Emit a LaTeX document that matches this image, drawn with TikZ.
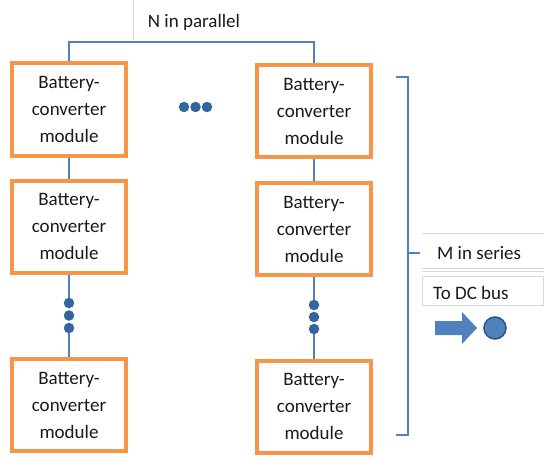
\documentclass[tikz,border=0pt]{standalone}
\usepackage{fontspec}
\setmainfont{Carlito}
\definecolor{modorange}{HTML}{F79646}
\definecolor{busblue}{HTML}{4F81BD}
\definecolor{dotblue}{HTML}{35659F}
\definecolor{dkblue}{HTML}{2C5383}
\definecolor{txt}{HTML}{1A1A1A}
\definecolor{faint}{HTML}{D9D9D9}
\tikzset{
  module/.style={draw=modorange, line width=4pt, fill=white, rectangle,
    minimum width=114pt, minimum height=92pt, inner sep=0pt, align=center,
    text=txt, font=\fontsize{19}{27}\selectfont},
  bus/.style={draw=busblue, line width=2pt},
  dotc/.style={circle, fill=dotblue, minimum size=10.5pt, inner sep=0pt},
  label/.style={text=txt, font=\fontsize{19}{22}\selectfont, inner sep=0pt},
  faintline/.style={draw=faint, line width=0.8pt}
}
\begin{document}
\begin{tikzpicture}[x=1pt, y=-1pt]
\useasboundingbox[fill=white] (0,0) rectangle (544,460);
% faint text box edges
\draw[faintline] (133,0) -- (133,40);
\draw[faintline] (422,233) -- (544,233);
\draw[faintline] (422,268) -- (544,268);
\draw[faintline] (422,271) -- (544,271);
\draw[faintline] (422,276) rectangle (543,305);
% modules
\node[module] (L1) at (69,109.5) {Battery-\\converter\\module};
\node[module] (L2) at (69,226.5) {Battery-\\converter\\module};
\node[module] (L3) at (69,405) {Battery-\\converter\\module};
\node[module] (R1) at (314,111) {Battery-\\converter\\module};
\node[module] (R2) at (314,229) {Battery-\\converter\\module};
\node[module] (R3) at (314,406.5) {Battery-\\converter\\module};
% bus
\coordinate (bus) at (192,42);
\draw[bus] (L1.north) |- (bus) -| (R1.north);
\draw[bus] (L1.south) -- (L2.north);
\draw[bus] (R1.south) -- (R2.north);
% vertical dots
\node[dotc] (ld1) at (69,303) {};
\node[dotc] (ld2) at (69,315.5) {};
\node[dotc] (ld3) at (69,328) {};
\node[dotc] (rd1) at (314,305) {};
\node[dotc] (rd2) at (314,317) {};
\node[dotc] (rd3) at (314,329) {};
\draw[bus] (L2.south) -- (ld1);
\draw[bus] (ld3) -- (L3.north);
\draw[bus] (R2.south) -- (rd1);
\draw[bus] (rd3) -- (R3.north);
% horizontal dots
\node[dotc] (hd1) at (184,107) {};
\node[dotc] (hd2) at (195.5,107) {};
\node[dotc] (hd3) at (207,107) {};
% labels
\node[label] (np) at (194,22) {N in parallel};
\node[label, anchor=west] (ms) at (437,253) {M in series};
\node[label, anchor=west] (dc) at (433,293) {To DC bus};
% bracket
\coordinate (bt) at (396,77);
\coordinate (bb) at (396,435);
\coordinate (bm) at (420,253);
\draw[bus] (bt) -- (408,77) -- (408,435) -- (bb);
\draw[bus] (408,253) -- (bm);
% arrow and terminal
\fill[busblue] (435,321) -- (462,321) -- (462,312) -- (477,328) -- (462,344) -- (462,335) -- (435,335) -- cycle;
\node[circle, fill=busblue, draw=dkblue, line width=1.5pt, minimum size=22pt, inner sep=0pt] (term) at (495,328) {};
\end{tikzpicture}
\end{document}
